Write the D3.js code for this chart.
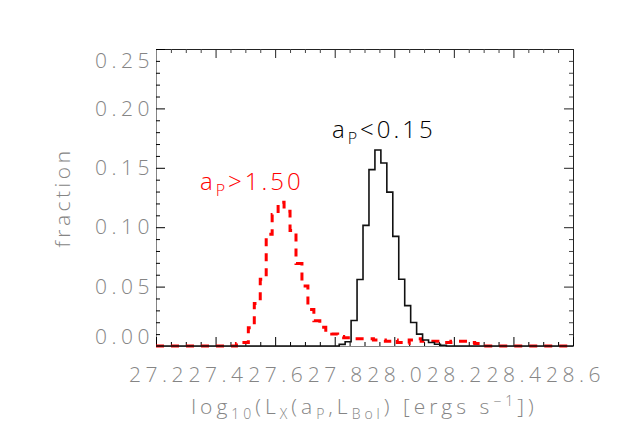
<!DOCTYPE html>
<html>
<head>
<meta charset="utf-8">
<script src="https://cdn.jsdelivr.net/npm/d3@7"></script>
<style>
  body { margin: 0; background: #fff; }
  text { font-family: "Open Sans", "DejaVu Sans", sans-serif; font-weight: 300; }
</style>
</head>
<body>
<svg id="chart"></svg>
<script>
var screen = {width: 623, height: 445};
var margins = {top: 49, right: 50, bottom: 99, left: 156};

// histogram bins (fraction per bin), bin width 0.02 in log10 Lx
var binWidth = 0.02;
var blackStart = 27.815;
var blackFrac = [0.0014, 0.0036, 0.0215, 0.056, 0.1015, 0.1485, 0.165, 0.154, 0.1295,
                 0.0923, 0.0562, 0.034, 0.0198, 0.010, 0.005, 0.003, 0.0015, 0.0005];
var redStart = 27.47;
var redFrac = [0.002, 0.003, 0.0154, 0.0358, 0.0562, 0.094, 0.1107, 0.121, 0.1135, 0.0973,
               0.0694, 0.0506, 0.0308, 0.0212, 0.0157, 0.012, 0.010, 0.008, 0.007, 0.007,
               0.006, 0.006, 0.006, 0.005, 0.005, 0.004, 0.005, 0.003, 0.002, 0.005,
               0.006, 0.004, 0.004, 0.004, 0.004, 0.003, 0.004, 0.004, 0.004, 0.003, 0.002];

var xTicks = [27.2, 27.4, 27.6, 27.8, 28.0, 28.2, 28.4, 28.6];
var xMinor = [27.25, 27.3, 27.35, 27.45, 27.5, 27.55, 27.65, 27.7, 27.75, 27.85, 27.9, 27.95,
              28.05, 28.1, 28.15, 28.25, 28.3, 28.35, 28.45, 28.5, 28.55];
var yTicks = [0, 0.05, 0.10, 0.15, 0.20, 0.25];
var yMinor = [0.01, 0.02, 0.03, 0.04, 0.06, 0.07, 0.08, 0.09, 0.11, 0.12, 0.13, 0.14,
              0.16, 0.17, 0.18, 0.19, 0.21, 0.22, 0.23, 0.24];

var width = screen.width - margins.left - margins.right;
var height = screen.height - margins.top - margins.bottom;
var grey = "#858585";

var svg = d3.select("#chart")
    .attr("width", screen.width)
    .attr("height", screen.height)

var g = svg.append("g")
    .attr("transform", "translate(" + margins.left + "," + margins.top + ")")

var xScale = d3.scaleLinear().domain([27.2, 28.6]).range([0, width])
var yScale = d3.scaleLinear().domain([0, 0.25]).range([height, 0])

// turns bins into step points padded with zeros to the axis ends
var steps = function(start, frac)
{
    var pts = [{x: 27.2, y: 0}]
    frac.forEach(function(f, i) {
        pts.push({x: start + i * binWidth, y: f})
    })
    pts.push({x: start + frac.length * binWidth, y: 0})
    pts.push({x: 28.6, y: 0})
    return pts
}

var line = d3.line()
    .curve(d3.curveStepAfter)
    .x(function(d) { return xScale(d.x) })
    .y(function(d) { return yScale(d.y) })

// top and right frame (dark)
g.append("g")
    .call(d3.axisTop(xScale).tickValues(xTicks).tickSize(-9).tickFormat(""))
    .call(function(a) { a.selectAll("line, path").attr("stroke", "#222") })
g.append("g")
    .call(d3.axisTop(xScale).tickValues(xMinor).tickSize(-4).tickFormat(""))
    .call(function(a) { a.select("path").remove(); a.selectAll("line").attr("stroke", "#444") })
g.append("g")
    .attr("transform", "translate(" + width + ",0)")
    .call(d3.axisRight(yScale).tickValues(yTicks).tickSize(-9).tickFormat(""))
    .call(function(a) { a.selectAll("line, path").attr("stroke", "#222") })
g.append("g")
    .attr("transform", "translate(" + width + ",0)")
    .call(d3.axisRight(yScale).tickValues(yMinor).tickSize(-4).tickFormat(""))
    .call(function(a) { a.select("path").remove(); a.selectAll("line").attr("stroke", "#444") })

// left and bottom axes (grey)
var yAxis = g.append("g")
    .call(d3.axisLeft(yScale).tickValues(yTicks).tickSize(-9).tickPadding(2)
          .tickFormat(d3.format(".2f")))
g.append("g")
    .call(d3.axisLeft(yScale).tickValues(yMinor).tickSize(-4).tickFormat(""))
    .call(function(a) { a.select("path").remove() })
var xAxis = g.append("g")
    .attr("transform", "translate(0," + height + ")")
    .call(d3.axisBottom(xScale).tickValues(xTicks).tickSize(-9).tickPadding(21)
          .tickFormat(d3.format(".1f")))
g.append("g")
    .attr("transform", "translate(0," + height + ")")
    .call(d3.axisBottom(xScale).tickValues(xMinor).tickSize(-4).tickFormat(""))
    .call(function(a) { a.select("path").remove() })

g.selectAll(".tick line").filter(function() { return !this.getAttribute("stroke") })
    .attr("stroke", grey)
yAxis.select("path").attr("stroke", grey)
xAxis.select("path").attr("stroke", grey)

g.selectAll(".tick text")
    .attr("fill", grey)
    .style("font-size", "21px")
    .style("letter-spacing", "4.5px")
xAxis.selectAll(".tick text").attr("dx", 2)

// IDL keeps the end labels inside the axis
yAxis.selectAll(".tick text")
    .attr("dy", function(d) {
        if (d == 0.25) return "0.9em"
        if (d == 0) return "-0.1em"
        return "0.32em"
    })

// histograms
g.append("path")
    .datum(steps(redStart, redFrac))
    .attr("fill", "none")
    .attr("stroke", "#ff0000")
    .attr("stroke-width", 3)
    .attr("stroke-dasharray", "8,7")
    .attr("d", line)

g.append("path")
    .datum(steps(blackStart, blackFrac))
    .attr("fill", "none")
    .attr("stroke", "#111")
    .attr("stroke-width", 1.6)
    .attr("d", line)

// labels
var lab = function(x, y, color, rel)
{
    var t = svg.append("text")
        .attr("x", x)
        .attr("y", y)
        .attr("fill", color)
        .style("font-size", "24px")
        .style("letter-spacing", "3px")
    t.append("tspan").text("a")
    t.append("tspan").attr("dy", 6).style("font-size", "16px").text("P")
    t.append("tspan").attr("dy", -6).text(rel)
}
lab(200, 190, "#ff0000", ">1.50")
lab(332, 138, "#000", "<0.15")

svg.append("text")
    .attr("transform", "translate(70," + (margins.top + height / 2) + ") rotate(-90)")
    .attr("text-anchor", "middle")
    .attr("fill", grey)
    .style("font-size", "21px")
    .style("letter-spacing", "3.5px")
    .text("fraction")

var xt = svg.append("text")
    .attr("x", margins.left + width / 2)
    .attr("y", 414)
    .attr("text-anchor", "middle")
    .attr("fill", grey)
    .style("font-size", "21px")
    .style("letter-spacing", "4px")
xt.append("tspan").text("log")
xt.append("tspan").attr("dy", 5).style("font-size", "14px").text("10")
xt.append("tspan").attr("dy", -5).text("(L")
xt.append("tspan").attr("dy", 5).style("font-size", "14px").text("X")
xt.append("tspan").attr("dy", -5).text("(a")
xt.append("tspan").attr("dy", 5).style("font-size", "14px").text("P")
xt.append("tspan").attr("dy", -5).text(",L")
xt.append("tspan").attr("dy", 5).style("font-size", "14px").text("Bol")
xt.append("tspan").attr("dy", -5).text(") [ergs s")
xt.append("tspan").attr("dy", -8).style("font-size", "14px").text("\u22121")
xt.append("tspan").attr("dy", 8).text("])")
</script>
</body>
</html>
